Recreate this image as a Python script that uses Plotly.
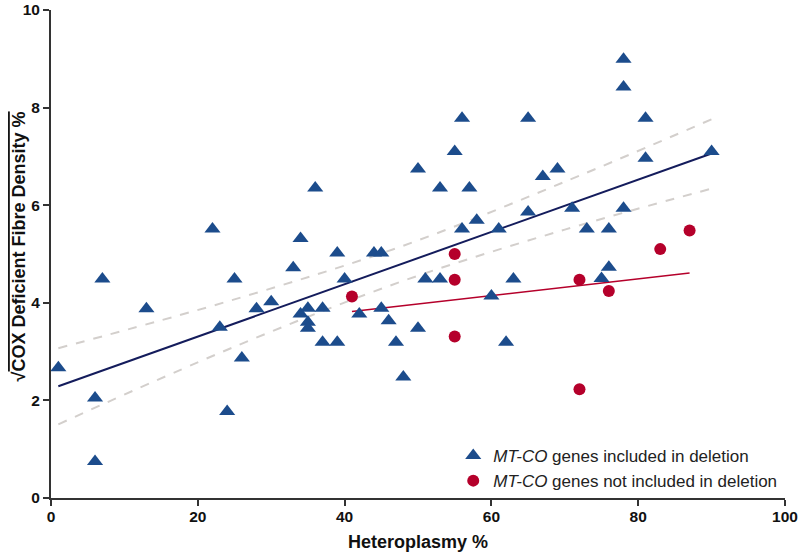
import plotly.graph_objects as go

# MT-CO genes included in deletion
blue_x = [1, 6, 6, 7, 13, 22, 23, 24, 25, 26, 28, 30, 33, 34, 34, 35, 35, 35, 36, 37,
          37, 39, 39, 40, 42, 44, 45, 45, 46, 47, 48, 50, 50, 51, 53, 53, 55, 56, 56, 57,
          58, 60, 61, 62, 63, 65, 65, 67, 69, 71, 73, 75, 76, 76, 78, 78, 78, 81, 81, 90]
blue_y = [2.67, 2.05, 0.75, 4.49, 3.88, 5.51, 3.50, 1.77, 4.49, 2.87, 3.88, 4.02, 4.72, 5.32, 3.77,
          3.89, 3.60, 3.48, 6.35, 3.89, 3.19, 5.02, 3.19, 4.49, 3.77, 5.02, 5.02, 3.89, 3.63, 3.19,
          2.48, 6.74, 3.48, 4.49, 6.35, 4.49, 7.10, 7.78, 5.51, 6.35, 5.69, 4.14, 5.51, 3.19, 4.49,
          7.78, 5.86, 6.59, 6.74, 5.94, 5.51, 4.50, 5.51, 4.73, 8.99, 8.42, 5.94, 7.78, 6.96, 7.10]

# MT-CO genes not included in deletion
red_x = [41, 55, 55, 55, 72, 72, 76, 83, 87]
red_y = [4.13, 5.00, 4.47, 3.31, 4.47, 2.23, 4.24, 5.10, 5.48]

# regression lines (end points)
blue_fit_x = [1, 90]
blue_fit_y = [2.29, 7.06]
red_fit_x = [41, 87]
red_fit_y = [3.82, 4.61]

# 95% confidence band of the blue fit
band_x = [1, 25, 48, 70, 90]
band_upper = [3.07, 4.07, 5.17, 6.48, 7.76]
band_lower = [1.51, 3.10, 4.45, 5.50, 6.34]

BLUE = '#1c4c8c'
RED = '#b5002b'
NAVY = '#141c5c'
GREY = '#d3cfcc'
FONT = 'Liberation Sans, Arial'

fig = go.Figure()

for band in (band_upper, band_lower):
    fig.add_trace(go.Scatter(
        x=band_x, y=band, mode='lines', showlegend=False, hoverinfo='skip',
        line=dict(color=GREY, width=2, dash='dash', shape='spline'),
    ))

fig.add_trace(go.Scatter(
    x=blue_fit_x, y=blue_fit_y, mode='lines', showlegend=False,
    line=dict(color=NAVY, width=2),
))
fig.add_trace(go.Scatter(
    x=red_fit_x, y=red_fit_y, mode='lines', showlegend=False,
    line=dict(color=RED, width=1.6),
))

fig.add_trace(go.Scatter(
    x=blue_x, y=blue_y, mode='markers', cliponaxis=False,
    name='<i>MT-CO</i> genes included in deletion',
    marker=dict(symbol='triangle-up', size=14, color=BLUE),
))
fig.add_trace(go.Scatter(
    x=red_x, y=red_y, mode='markers', cliponaxis=False,
    name='<i>MT-CO</i> genes not included in deletion',
    marker=dict(symbol='circle', size=12, color=RED),
))

axis_common = dict(
    showgrid=False, zeroline=False, showline=True, linecolor='#333333', linewidth=2,
    ticks='outside', ticklen=6, tickwidth=2, tickcolor='#333333', automargin=False,
    tickfont=dict(family=FONT, size=15.5, color='#111111', weight=700),
)
fig.update_xaxes(range=[0, 100], dtick=20, ticklabelstandoff=-3, **axis_common)
fig.update_yaxes(range=[0, 10], dtick=2, **axis_common)

# axis titles as annotations for exact placement
fig.add_annotation(
    text='<b>Heteroplasmy %</b>', xref='paper', yref='paper', x=0.5, y=-0.091,
    xanchor='center', yanchor='middle', showarrow=False,
    font=dict(family=FONT, size=18, color='#111111'),
)
fig.add_annotation(
    text='<b>√<span style="text-decoration:overline">COX Deficient Fibre Density %</span></b>',
    xref='paper', yref='paper', x=-0.044, y=0.515, textangle=-90,
    xanchor='center', yanchor='middle', showarrow=False,
    font=dict(family=FONT, size=18, color='#111111'),
)

fig.update_layout(
    width=800, height=555,
    margin=dict(l=51, r=15, t=10, b=57),
    plot_bgcolor='white', paper_bgcolor='white',
    legend=dict(
        x=0.548, y=0.123, xanchor='left', yanchor='top',
        bgcolor='rgba(0,0,0,0)',
        font=dict(family=FONT, size=17, color='#222222'),
    ),
)

fig.write_html("out.html", config={'displayModeBar': False},
               post_script="document.body.style.margin='0';")
